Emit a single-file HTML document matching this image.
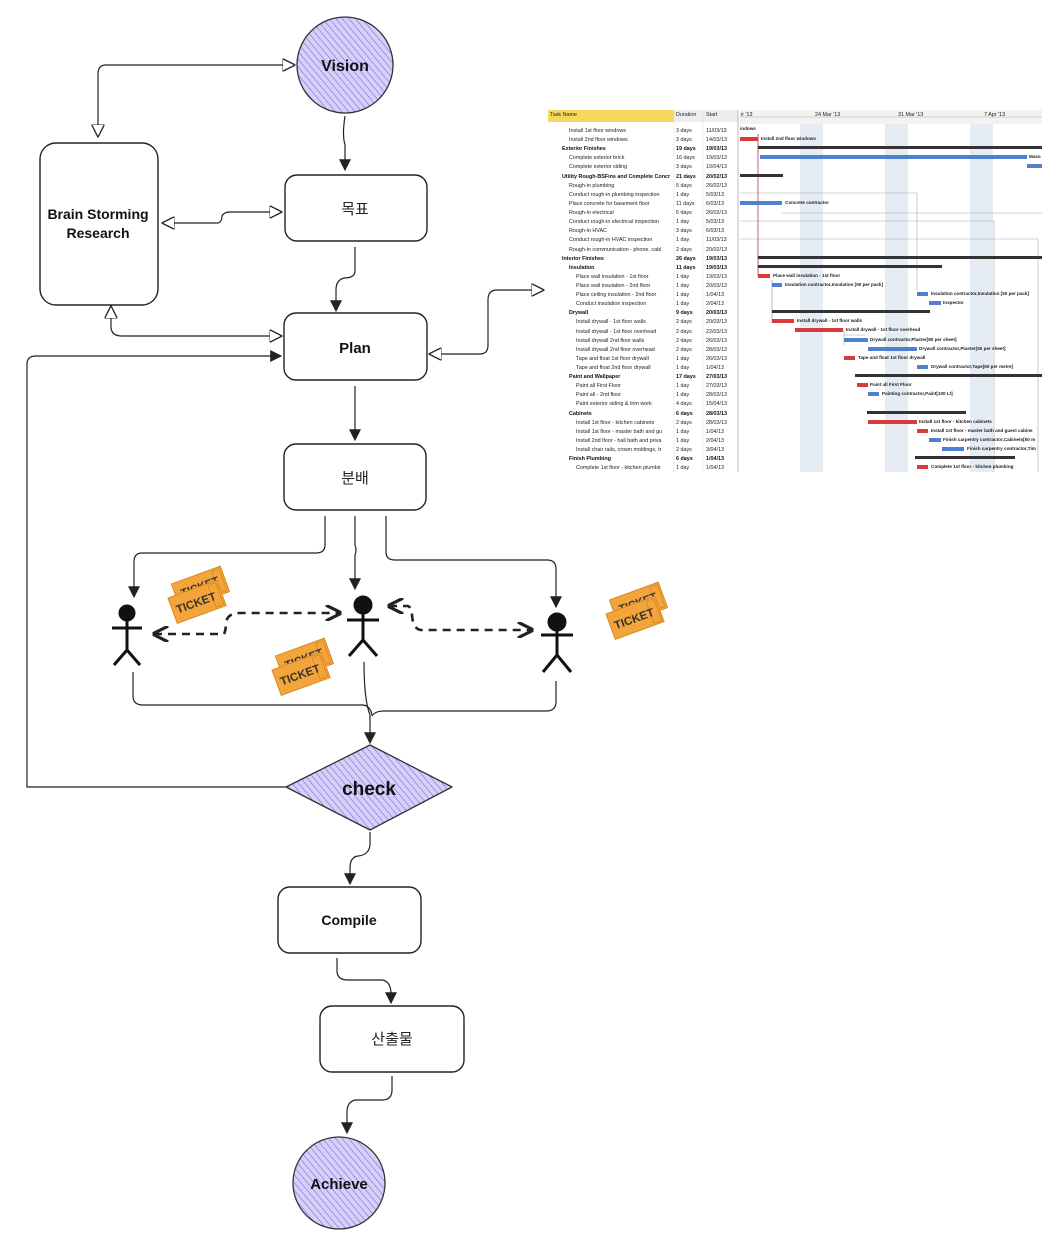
<!DOCTYPE html>
<html><head><meta charset="utf-8"><style>
html,body{margin:0;padding:0;background:#fff;}
svg{display:block;}
.b{font-family:"Liberation Sans",sans-serif;font-weight:bold;fill:#111;}
.k{font-family:"Liberation Sans","Noto Sans CJK KR",sans-serif;fill:#222;font-size:15px;}
.g{font-family:"Liberation Sans",sans-serif;font-size:5.4px;fill:#222;}
.gb{font-family:"Liberation Sans",sans-serif;font-size:5.4px;fill:#111;font-weight:bold;}
.bl{font-family:"Liberation Sans",sans-serif;font-size:4.6px;fill:#222;font-weight:bold;}
.ln{fill:none;stroke:#222;stroke-width:1.2;}
</style></head><body>
<svg width="1062" height="1250" viewBox="0 0 1062 1250" xmlns="http://www.w3.org/2000/svg">
<defs>
<pattern id="h" width="5" height="5" patternUnits="userSpaceOnUse" patternTransform="rotate(-40)">
<rect width="5" height="5" fill="#d6d0f7"/>
<line x1="0" y1="0" x2="0" y2="5" stroke="#6a5ae0" stroke-width="1"/>
</pattern>
<marker id="fa" viewBox="0 0 10 10" refX="9" refY="5" markerWidth="12" markerHeight="12" markerUnits="userSpaceOnUse" orient="auto"><path d="M0,0 L10,5 L0,10 z" fill="#222"/></marker>
<marker id="oa" viewBox="0 0 10 10" refX="9" refY="5" markerWidth="13" markerHeight="13" markerUnits="userSpaceOnUse" orient="auto"><path d="M0,0 L10,5 L0,10 z" fill="#fff" stroke="#222" stroke-width="1"/></marker>
<marker id="os" viewBox="0 0 10 10" refX="1" refY="5" markerWidth="13" markerHeight="13" markerUnits="userSpaceOnUse" orient="auto"><path d="M10,0 L0,5 L10,10 z" fill="#fff" stroke="#222" stroke-width="1"/></marker>
<marker id="va" viewBox="0 0 10 10" refX="9" refY="5" markerWidth="16" markerHeight="16" markerUnits="userSpaceOnUse" orient="auto"><path d="M0,0 L10,5 L0,10" fill="none" stroke="#222" stroke-width="2"/></marker>
<marker id="vs" viewBox="0 0 10 10" refX="1" refY="5" markerWidth="16" markerHeight="16" markerUnits="userSpaceOnUse" orient="auto"><path d="M10,0 L0,5 L10,10" fill="none" stroke="#222" stroke-width="2"/></marker>
<g id="tk">
<g transform="rotate(-20)">
<rect x="8" y="-12" width="52" height="27" fill="#f3a43a" stroke="#d98a20"/>
<rect x="50" y="-10" width="8" height="23" fill="none" stroke="#c47818" stroke-width="0.5"/>
<text x="14" y="4" font-family="Liberation Sans" font-weight="bold" font-size="11" fill="#333">TICKET</text>
<rect x="0" y="0" width="52" height="27" fill="#f3a43a" stroke="#d98a20"/>
<rect x="42" y="2" width="8" height="23" fill="none" stroke="#c47818" stroke-width="0.5"/>
<text x="4" y="18" font-family="Liberation Sans" font-weight="bold" font-size="11.5" fill="#333">TICKET</text>
</g></g>
</defs>

<circle cx="345" cy="65" r="48" fill="url(#h)" stroke="#333" stroke-width="1.3"/>
<text x="345" y="71" text-anchor="middle" class="b" font-size="16">Vision</text>

<rect x="40" y="143" width="118" height="162" rx="16" fill="#fff" stroke="#222" stroke-width="1.4"/>
<text x="98" y="219" text-anchor="middle" class="b" font-size="14">Brain Storming</text>
<text x="98" y="238" text-anchor="middle" class="b" font-size="14">Research</text>

<rect x="285" y="175" width="142" height="66" rx="12" fill="#fff" stroke="#222" stroke-width="1.4"/>
<text x="355" y="214" text-anchor="middle" class="k">목표</text>
<rect x="284" y="313" width="143" height="67" rx="12" fill="#fff" stroke="#222" stroke-width="1.4"/>
<text x="355" y="353" text-anchor="middle" class="b" font-size="15">Plan</text>
<rect x="284" y="444" width="142" height="66" rx="12" fill="#fff" stroke="#222" stroke-width="1.4"/>
<text x="355" y="483" text-anchor="middle" class="k">분배</text>

<path d="M370,745 L452,787 L370,830 L286,787 Z" fill="url(#h)" stroke="#333" stroke-width="1.3" stroke-linejoin="round"/>
<text x="369" y="795" text-anchor="middle" class="b" font-size="19">check</text>

<rect x="278" y="887" width="143" height="66" rx="12" fill="#fff" stroke="#222" stroke-width="1.4"/>
<text x="349" y="925" text-anchor="middle" class="b" font-size="14">Compile</text>
<rect x="320" y="1006" width="144" height="66" rx="12" fill="#fff" stroke="#222" stroke-width="1.4"/>
<text x="392" y="1044" text-anchor="middle" class="k">산출물</text>

<circle cx="339" cy="1183" r="46" fill="url(#h)" stroke="#333" stroke-width="1.3"/>
<text x="339" y="1189" text-anchor="middle" class="b" font-size="15">Achieve</text>

<path class="ln" d="M294,65 H106 Q98,65 98,74 V136" marker-start="url(#os)" marker-end="url(#oa)"/>
<path class="ln" d="M345,116 Q342,135 345,145 V170" marker-end="url(#fa)"/>
<path class="ln" d="M163,223 H218 Q222,222 222,216 Q224,212 230,212 H281" marker-start="url(#os)" marker-end="url(#oa)"/>
<path class="ln" d="M355,247 V272 Q354,278 344,278 Q336,280 336,290 V311" marker-end="url(#fa)"/>
<path class="ln" d="M111,307 V328 Q112,336 122,336 H281" marker-start="url(#os)" marker-end="url(#oa)"/>
<path class="ln" d="M286,787 H27 V364 Q27,356 36,356 H281" marker-end="url(#fa)"/>
<path class="ln" d="M430,354 H480 Q488,354 488,345 V300 Q488,290 497,290 H543" marker-start="url(#os)" marker-end="url(#oa)"/>
<path class="ln" d="M355,386 V440" marker-end="url(#fa)"/>
<path class="ln" d="M325,516 V545 Q325,553 316,553 H142 Q134,553 134,562 V597" marker-end="url(#fa)"/>
<path class="ln" d="M355,516 V545 Q357,550 355,555 V589" marker-end="url(#fa)"/>
<path class="ln" d="M386,516 V552 Q386,560 395,560 H547 Q556,560 556,569 V607" marker-end="url(#fa)"/>
<path class="ln" d="M133,672 V696 Q133,705 143,705 H362 Q370,705 372,715" />
<path class="ln" d="M556,681 V702 Q556,711 546,711 H384 Q375,711 372,716"/>
<path class="ln" d="M364,662 Q364,700 370,715 V743" marker-end="url(#fa)"/>
<path class="ln" d="M370,832 V845 Q369,855 358,856 Q350,857 350,868 V884" marker-end="url(#fa)"/>
<path class="ln" d="M337,958 V972 Q338,980 348,980 H382 Q390,981 391,992 V1003" marker-end="url(#fa)"/>
<path class="ln" d="M392,1076 V1090 Q392,1100 382,1100 H355 Q347,1102 347,1112 V1133" marker-end="url(#fa)"/>

<path d="M154,634 H224 Q226,630 226,622 Q228,613 240,613 H340" fill="none" stroke="#222" stroke-width="2.6" stroke-dasharray="8,6" marker-start="url(#vs)" marker-end="url(#va)"/>
<path d="M389,606 H408 Q412,608 412,615 Q413,630 422,630 H532" fill="none" stroke="#222" stroke-width="2.6" stroke-dasharray="8,6" marker-start="url(#vs)" marker-end="url(#va)"/>

<g stroke="#111" stroke-width="3" fill="none">
<circle cx="127" cy="613" r="7" fill="#111"/><path d="M127,620 V650 M112,628 H142 M127,650 L114,665 M127,650 L140,665"/>
<circle cx="363" cy="605" r="8" fill="#111"/><path d="M363,613 V640 M347,620 H379 M363,640 L349,656 M363,640 L377,656"/>
<circle cx="557" cy="622" r="8" fill="#111"/><path d="M557,630 V655 M541,635 H573 M557,655 L543,672 M557,655 L571,672"/>
</g>

<use href="#tk" x="168" y="598"/>
<use href="#tk" x="272" y="670"/>
<use href="#tk" x="606" y="614"/>

<g>
<rect x="548" y="110" width="126" height="12" fill="#f6d95a"/>
<rect x="674" y="110" width="64" height="12" fill="#eee"/>
<text x="550" y="116" class="g" font-size="4.5">Task Name</text>
<text x="676" y="116" class="g" font-size="4.5">Duration</text>
<text x="706" y="116" class="g" font-size="4.5">Start</text>
<rect x="740" y="110" width="302" height="14" fill="#f2f2f2"/>
<line x1="740" y1="117" x2="1042" y2="117" stroke="#aaa" stroke-width="0.5"/>
<text x="741" y="116" class="g" font-size="4.5">ir '13</text>
<text x="815" y="116" class="g" font-size="4.5">24 Mar '13</text>
<text x="898" y="116" class="g" font-size="4.5">31 Mar '13</text>
<text x="984" y="116" class="g" font-size="4.5">7 Apr '13</text>
<rect x="800" y="124" width="23" height="348" fill="#e6ecf4"/>
<rect x="885" y="124" width="23" height="348" fill="#e6ecf4"/>
<rect x="970" y="124" width="23" height="348" fill="#e6ecf4"/>
<line x1="674" y1="110" x2="674" y2="472" stroke="#ddd" stroke-width="0.5"/>
<line x1="703" y1="110" x2="703" y2="472" stroke="#ddd" stroke-width="0.5"/>
<line x1="738" y1="110" x2="738" y2="472" stroke="#bbb" stroke-width="1"/>
<g>
<text x="569" y="132" class="g">Install 1st floor windows</text><text x="676" y="132" class="g">3 days</text><text x="706" y="132" class="g">11/03/13</text>
<text x="569" y="141" class="g">Install 2nd floor windows</text><text x="676" y="141" class="g">3 days</text><text x="706" y="141" class="g">14/03/13</text>
<text x="562" y="150" class="gb">Exterior Finishes</text><text x="676" y="150" class="gb">19 days</text><text x="706" y="150" class="gb">19/03/13</text>
<text x="569" y="159" class="g">Complete exterior brick</text><text x="676" y="159" class="g">16 days</text><text x="706" y="159" class="g">19/03/13</text>
<text x="569" y="168" class="g">Complete exterior siding</text><text x="676" y="168" class="g">3 days</text><text x="706" y="168" class="g">10/04/13</text>
<text x="562" y="178" class="gb">Utility Rough-BSFins and Complete Concr</text><text x="676" y="178" class="gb">21 days</text><text x="706" y="178" class="gb">20/02/13</text>
<text x="569" y="187" class="g">Rough-in plumbing</text><text x="676" y="187" class="g">5 days</text><text x="706" y="187" class="g">26/02/13</text>
<text x="569" y="196" class="g">Conduct rough-in plumbing inspection</text><text x="676" y="196" class="g">1 day</text><text x="706" y="196" class="g">5/03/13</text>
<text x="569" y="205" class="g">Place concrete for basement floor</text><text x="676" y="205" class="g">11 days</text><text x="706" y="205" class="g">6/03/13</text>
<text x="569" y="214" class="g">Rough-in electrical</text><text x="676" y="214" class="g">5 days</text><text x="706" y="214" class="g">26/02/13</text>
<text x="569" y="223" class="g">Conduct rough-in electrical inspection</text><text x="676" y="223" class="g">1 day</text><text x="706" y="223" class="g">5/03/13</text>
<text x="569" y="232" class="g">Rough-in HVAC</text><text x="676" y="232" class="g">3 days</text><text x="706" y="232" class="g">6/03/13</text>
<text x="569" y="241" class="g">Conduct rough-in HVAC inspection</text><text x="676" y="241" class="g">1 day</text><text x="706" y="241" class="g">11/03/13</text>
<text x="569" y="251" class="g">Rough-in communication - phone, cabl</text><text x="676" y="251" class="g">2 days</text><text x="706" y="251" class="g">20/02/13</text>
<text x="562" y="260" class="gb">Interior Finishes</text><text x="676" y="260" class="gb">26 days</text><text x="706" y="260" class="gb">19/03/13</text>
<text x="569" y="269" class="gb">Insulation</text><text x="676" y="269" class="gb">11 days</text><text x="706" y="269" class="gb">19/03/13</text>
<text x="576" y="278" class="g">Place wall insulation - 1st floor</text><text x="676" y="278" class="g">1 day</text><text x="706" y="278" class="g">19/03/13</text>
<text x="576" y="287" class="g">Place wall insulation - 2nd floor</text><text x="676" y="287" class="g">1 day</text><text x="706" y="287" class="g">20/03/13</text>
<text x="576" y="296" class="g">Place ceiling insulation - 2nd floor</text><text x="676" y="296" class="g">1 day</text><text x="706" y="296" class="g">1/04/13</text>
<text x="576" y="305" class="g">Conduct insulation inspection</text><text x="676" y="305" class="g">1 day</text><text x="706" y="305" class="g">2/04/13</text>
<text x="569" y="314" class="gb">Drywall</text><text x="676" y="314" class="gb">9 days</text><text x="706" y="314" class="gb">20/03/13</text>
<text x="576" y="323" class="g">Install drywall - 1st floor walls</text><text x="676" y="323" class="g">2 days</text><text x="706" y="323" class="g">20/03/13</text>
<text x="576" y="333" class="g">Install drywall - 1st floor overhead</text><text x="676" y="333" class="g">2 days</text><text x="706" y="333" class="g">22/03/13</text>
<text x="576" y="342" class="g">Install drywall 2nd floor walls</text><text x="676" y="342" class="g">2 days</text><text x="706" y="342" class="g">26/03/13</text>
<text x="576" y="351" class="g">Install drywall 2nd floor overhead</text><text x="676" y="351" class="g">2 days</text><text x="706" y="351" class="g">28/03/13</text>
<text x="576" y="360" class="g">Tape and float 1st floor drywall</text><text x="676" y="360" class="g">1 day</text><text x="706" y="360" class="g">26/03/13</text>
<text x="576" y="369" class="g">Tape and float 2nd floor drywall</text><text x="676" y="369" class="g">1 day</text><text x="706" y="369" class="g">1/04/13</text>
<text x="569" y="378" class="gb">Paint and Wallpaper</text><text x="676" y="378" class="gb">17 days</text><text x="706" y="378" class="gb">27/03/13</text>
<text x="576" y="387" class="g">Paint all First Floor</text><text x="676" y="387" class="g">1 day</text><text x="706" y="387" class="g">27/03/13</text>
<text x="576" y="396" class="g">Paint all - 2nd floor</text><text x="676" y="396" class="g">1 day</text><text x="706" y="396" class="g">28/03/13</text>
<text x="576" y="405" class="g">Paint exterior siding &amp; trim work</text><text x="676" y="405" class="g">4 days</text><text x="706" y="405" class="g">15/04/13</text>
<text x="569" y="415" class="gb">Cabinets</text><text x="676" y="415" class="gb">6 days</text><text x="706" y="415" class="gb">28/03/13</text>
<text x="576" y="424" class="g">Install 1st floor - kitchen cabinets</text><text x="676" y="424" class="g">2 days</text><text x="706" y="424" class="g">28/03/13</text>
<text x="576" y="433" class="g">Install 1st floor - master bath and gu</text><text x="676" y="433" class="g">1 day</text><text x="706" y="433" class="g">1/04/13</text>
<text x="576" y="442" class="g">Install 2nd floor - hall bath and priva</text><text x="676" y="442" class="g">1 day</text><text x="706" y="442" class="g">2/04/13</text>
<text x="576" y="451" class="g">Install chair rails, crown moldings, tr</text><text x="676" y="451" class="g">2 days</text><text x="706" y="451" class="g">3/04/13</text>
<text x="569" y="460" class="gb">Finish Plumbing</text><text x="676" y="460" class="gb">6 days</text><text x="706" y="460" class="gb">1/04/13</text>
<text x="576" y="469" class="g">Complete 1st floor - kitchen plumbir</text><text x="676" y="469" class="g">1 day</text><text x="706" y="469" class="g">1/04/13</text>
</g>
<g stroke="#9ab" stroke-width="0.6" fill="none">
<path d="M740,193 H917 V290"/><path d="M740,221 H994 V472"/><path d="M740,239 H1038 V472"/><path d="M782,213 H1042"/><path d="M844,331 V345"/><path d="M844,335 H866"/>
</g>
<line x1="758" y1="134" x2="758" y2="276" stroke="#c33" stroke-width="0.8"/>
<line x1="772" y1="280" x2="772" y2="323" stroke="#c99" stroke-width="0.8"/>
<g fill="#333">
<rect x="758" y="146" width="284" height="3"/>
<rect x="740" y="174" width="43" height="3"/>
<rect x="758" y="256" width="284" height="3"/>
<rect x="758" y="265" width="184" height="3"/>
<rect x="772" y="310" width="158" height="3"/>
<rect x="855" y="374" width="187" height="3"/>
<rect x="867" y="411" width="99" height="3"/>
<rect x="915" y="456" width="100" height="3"/>
</g>
<g fill="#d83b3b">
<rect x="740" y="137" width="18" height="4"/>
<rect x="758" y="274" width="12" height="4"/>
<rect x="772" y="319" width="22" height="4"/>
<rect x="795" y="328" width="48" height="4"/>
<rect x="844" y="356" width="11" height="4"/>
<rect x="857" y="383" width="11" height="4"/>
<rect x="868" y="420" width="49" height="4"/>
<rect x="917" y="429" width="11" height="4"/>
<rect x="917" y="465" width="11" height="4"/>
</g>
<g fill="#4f7fcf">
<rect x="760" y="155" width="267" height="4"/>
<rect x="1027" y="164" width="15" height="4"/>
<rect x="740" y="201" width="42" height="4"/>
<rect x="772" y="283" width="10" height="4"/>
<rect x="917" y="292" width="11" height="4"/>
<rect x="929" y="301" width="12" height="4"/>
<rect x="844" y="338" width="24" height="4"/>
<rect x="868" y="347" width="49" height="4"/>
<rect x="917" y="365" width="11" height="4"/>
<rect x="868" y="392" width="11" height="4"/>
<rect x="929" y="438" width="12" height="4"/>
<rect x="942" y="447" width="22" height="4"/>
</g>
<g>
<text x="740" y="130" class="bl">indows</text>
<text x="761" y="140" class="bl">Install 2nd floor windows</text>
<text x="1029" y="158" class="bl">Maso</text>
<text x="785" y="204" class="bl">Concrete contractor</text>
<text x="773" y="277" class="bl">Place wall insulation - 1st floor</text>
<text x="785" y="286" class="bl">Insulation contractor,Insulation [50 per pack]</text>
<text x="931" y="295" class="bl">Insulation contractor,Insulation [50 per pack]</text>
<text x="943" y="304" class="bl">Inspector</text>
<text x="797" y="322" class="bl">Install drywall - 1st floor walls</text>
<text x="846" y="331" class="bl">Install drywall - 1st floor overhead</text>
<text x="870" y="341" class="bl">Drywall contractor,Plaster[80 per sheet]</text>
<text x="919" y="350" class="bl">Drywall contractor,Plaster[60 per sheet]</text>
<text x="858" y="359" class="bl">Tape and float 1st floor drywall</text>
<text x="931" y="368" class="bl">Drywall contractor,Tape[60 per metre]</text>
<text x="870" y="386" class="bl">Paint all First Floor</text>
<text x="882" y="395" class="bl">Painting contractor,Paint[100 Lt]</text>
<text x="919" y="423" class="bl">Install 1st floor - kitchen cabinets</text>
<text x="931" y="432" class="bl">Install 1st floor - master bath and guest cabine</text>
<text x="943" y="441" class="bl">Finish carpentry contractor,Cabinets[50 m</text>
<text x="967" y="450" class="bl">Finish carpentry contractor,Tim</text>
<text x="931" y="468" class="bl">Complete 1st floor - kitchen plumbing</text>
</g>
</g>
</svg>
</body></html>
